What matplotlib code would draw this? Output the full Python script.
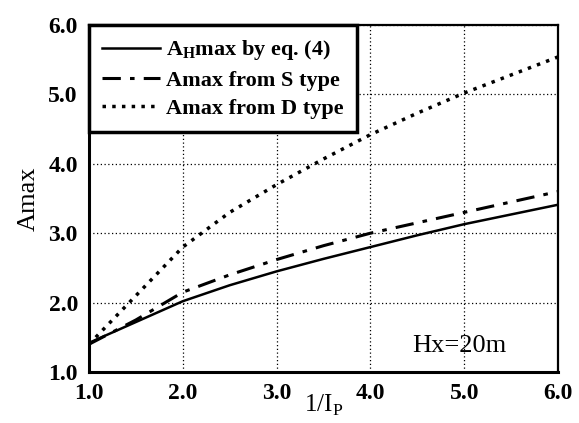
import matplotlib
matplotlib.use("Agg")
import matplotlib.pyplot as plt

plt.rcParams['font.family'] = ['Liberation Serif', 'DejaVu Serif']
plt.rcParams['mathtext.fontset'] = 'custom'
plt.rcParams['mathtext.rm'] = 'Liberation Serif'
plt.rcParams['mathtext.bf'] = 'Liberation Serif:bold'

# valori
x = [1.0, 1.5, 2.0, 2.5, 3.0, 3.5, 4.0, 4.5, 5.0, 5.5, 6.0]
a_eq4 = [1.42, 1.72, 2.02, 2.25, 2.45, 2.63, 2.80, 2.97, 3.13, 3.27, 3.41]
a_s = [1.40, 1.75, 2.15, 2.40, 2.62, 2.82, 3.00, 3.15, 3.30, 3.45, 3.60]
a_d = [1.40, 2.10, 2.80, 3.30, 3.70, 4.07, 4.42, 4.73, 5.02, 5.28, 5.54]
ticks = [1.0, 2.0, 3.0, 4.0, 5.0, 6.0]

fig = plt.figure(figsize=(5.79, 4.23), dpi=100)
ax = fig.add_axes([89/579, 1 - 372/423, (558-89)/579, (372-25)/423])

ax.plot(x, a_eq4, color='black', lw=1.8, label=r'A$_\mathbf{H}$max by eq. (4)')
ax.plot(x, a_s, color='black', lw=2.2, linestyle=(0, (6, 3, 1.5, 3)), label='Amax from S type')
ax.plot(x, a_d, color='black', lw=2.5, linestyle=(0, (1, 1.8)), label='Amax from D type')

ax.set_xlim(1, 6)
ax.set_ylim(1, 6)
ax.set_xticks(ticks)
ax.set_yticks(ticks)
ax.set_xticklabels(['%.1f' % t for t in ticks], fontsize=17, fontweight='bold')
ax.set_yticklabels(['%.1f' % t for t in ticks], fontsize=17, fontweight='bold')
ax.tick_params(length=0, pad=8)
ax.grid(True, color='black', linestyle=(0, (1, 2)), lw=0.9)

for s in ['left', 'bottom']:
    ax.spines[s].set_linewidth(2.2)
for s in ['top', 'right']:
    ax.spines[s].set_linewidth(1.6)

ax.set_ylabel('Amax', fontsize=19, labelpad=6)
ax.set_xlabel(r'1/I$_\mathregular{P}$', fontsize=18, labelpad=-8)
ax.text(4.45, 1.29, 'Hx=20m', fontsize=19)

leg = ax.legend(loc='upper left', fontsize=16, fancybox=False, framealpha=1,
                edgecolor='black', borderaxespad=0, handlelength=2.6,
                handletextpad=0.25, labelspacing=0.35, borderpad=0.6)
leg.get_frame().set_linewidth(2.5)
for t in leg.get_texts():
    t.set_fontweight('bold')

plt.savefig('out.png', dpi=100)
